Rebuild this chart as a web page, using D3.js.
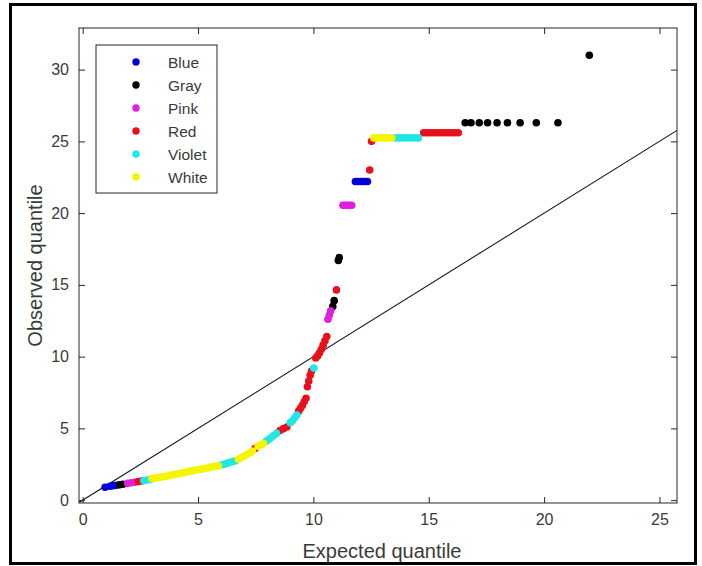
<!DOCTYPE html>
<html>
<head>
<meta charset="utf-8">
<script src="https://cdn.jsdelivr.net/npm/d3@7"></script>
<style>
  html, body { margin: 0; padding: 0; background: #fff; }
  svg text { font-family: "Liberation Sans", Arial, Helvetica, sans-serif; }
</style>
</head>
<body>
<svg id="chart" width="702" height="566"></svg>
<script>
// Q-Q plot: observed vs expected quantiles, points coloured by group.
// Each group is a list of [expected, observed] pairs.
const blue = [
  [0.97, 0.90], [1.18, 0.97], [1.33, 1.01], [1.47, 1.04],
  [11.82, 22.2], [11.92, 22.2], [12.03, 22.2], [12.13, 22.2], [12.24, 22.2], [12.34, 22.2]
];
const gray = [
  [1.60, 1.07], [1.74, 1.11],
  [10.84, 13.5], [10.90, 13.9], [11.08, 16.7], [11.12, 16.9],
  [16.58, 26.3], [16.83, 26.3], [17.19, 26.3], [17.55, 26.3], [17.96, 26.3],
  [18.41, 26.3], [18.96, 26.3], [19.66, 26.3], [20.60, 26.3],
  [21.96, 31.0]
];
const pink = [
  [1.95, 1.17], [2.10, 1.21], [2.25, 1.25],
  [10.63, 12.6], [10.69, 12.9], [10.75, 13.2],
  [11.28, 20.55], [11.37, 20.55], [11.47, 20.55], [11.57, 20.55], [11.66, 20.55]
];
const red = [
  [2.40, 1.29], [2.55, 1.33],
  [7.47, 3.60],
  [8.55, 4.85], [8.70, 4.98], [8.85, 5.10],
  [9.36, 6.20], [9.44, 6.40], [9.52, 6.60], [9.60, 6.85], [9.68, 7.10],
  [9.74, 7.90], [9.80, 8.30], [9.86, 8.70], [9.92, 9.00],
  [10.10, 9.90], [10.18, 10.05], [10.26, 10.25], [10.34, 10.50], [10.42, 10.80],
  [10.50, 11.10], [10.58, 11.40],
  [11.00, 14.65],
  [12.44, 23.0], [12.52, 25.0],
  [14.78, 25.6], [14.92, 25.6], [15.05, 25.6], [15.19, 25.6], [15.32, 25.6], [15.46, 25.6],
  [15.60, 25.6], [15.73, 25.6], [15.87, 25.6], [16.00, 25.6], [16.14, 25.6], [16.28, 25.6]
];
const violet = [
  [2.65, 1.36], [2.80, 1.40], [2.95, 1.44],
  [6.00, 2.45], [6.12, 2.50], [6.24, 2.56], [6.36, 2.62], [6.50, 2.68], [6.62, 2.74],
  [7.95, 4.10], [8.06, 4.22], [8.17, 4.36], [8.28, 4.50], [8.40, 4.65],
  [9.00, 5.40], [9.10, 5.55], [9.20, 5.75], [9.28, 5.93],
  [10.02, 9.20],
  [13.55, 25.24], [13.72, 25.24], [13.88, 25.24], [14.05, 25.24], [14.22, 25.24], [14.38, 25.24], [14.55, 25.24]
];
const white = [
  [3.00, 1.50], [3.12, 1.53], [3.24, 1.56], [3.36, 1.60], [3.48, 1.63], [3.60, 1.66],
  [3.72, 1.70], [3.84, 1.74], [3.96, 1.78], [4.08, 1.82], [4.20, 1.86], [4.32, 1.90],
  [4.44, 1.94], [4.56, 1.98], [4.68, 2.02], [4.80, 2.06], [4.92, 2.10], [5.04, 2.13],
  [5.16, 2.16], [5.28, 2.20], [5.40, 2.24], [5.52, 2.28], [5.64, 2.32], [5.76, 2.36],
  [5.88, 2.40],
  [6.75, 2.85], [6.88, 2.97], [7.00, 3.08], [7.12, 3.18], [7.25, 3.30], [7.36, 3.42],
  [7.60, 3.75], [7.72, 3.85], [7.83, 3.95],
  [12.62, 25.24], [12.78, 25.24], [12.93, 25.24], [13.09, 25.24], [13.24, 25.24], [13.40, 25.24]
];

const groupNames = ["Blue", "Gray", "Pink", "Red", "Violet", "White"];
const groupData = [blue, gray, pink, red, violet, white];
const groupColors = ["#0000d8", "#000000", "#e020e0", "#e8101c", "#22e6e6", "#f5f500"];

const xTicks = [0, 5, 10, 15, 20, 25];
const yTicks = [0, 5, 10, 15, 20, 25, 30];
const xDomain = [-0.16, 25.76];
const yDomain = [-0.2, 32.9];

const W = 702, H = 566;
const plot = { left: 79, right: 677, top: 28, bottom: 503 };
const axisColor = "#262626";

const svg = d3.select("#chart");
svg.append("rect").attr("width", W).attr("height", H).attr("fill", "#fff");

const x = d3.scaleLinear().domain(xDomain).range([plot.left, plot.right]);
const y = d3.scaleLinear().domain(yDomain).range([plot.bottom, plot.top]);

// clip for the plotting area
svg.append("clipPath").attr("id", "plotClip")
  .append("rect")
  .attr("x", plot.left).attr("y", plot.top)
  .attr("width", plot.right - plot.left).attr("height", plot.bottom - plot.top);

// reference line y = x across the full axis range
const refLine = d3.line().x(d => x(d[0])).y(d => y(d[1]));
svg.append("path")
  .attr("clip-path", "url(#plotClip)")
  .attr("d", refLine([[xDomain[0], xDomain[0]], [xDomain[1], xDomain[1]]]))
  .attr("fill", "none")
  .attr("stroke", "#1a1a1a")
  .attr("stroke-width", 1.1);

// scatter points, group by group
const pts = svg.append("g").attr("clip-path", "url(#plotClip)");
groupData.forEach((data, i) => {
  pts.append("g").selectAll("circle")
    .data(data)
    .join("circle")
    .attr("cx", d => x(d[0]))
    .attr("cy", d => y(d[1]))
    .attr("r", 3.8)
    .attr("fill", groupColors[i]);
});

// axes: ticks on all four sides, pointing inwards
const tickLen = 6;
const axB = d3.axisBottom(x).tickValues(xTicks).tickSize(-tickLen).tickPadding(11).tickFormat(d3.format("d"));
const axT = d3.axisTop(x).tickValues(xTicks).tickSize(-tickLen).tickFormat("");
const axL = d3.axisLeft(y).tickValues(yTicks).tickSize(-tickLen).tickPadding(10).tickFormat(d3.format("d"));
const axR = d3.axisRight(y).tickValues(yTicks).tickSize(-tickLen).tickFormat("");

function styleAxis(g) {
  g.select(".domain").remove();
  g.selectAll(".tick line").attr("stroke", axisColor);
  g.selectAll(".tick text").attr("fill", "#3a3a3a").attr("font-size", 16);
}
svg.append("g").attr("transform", `translate(0,${plot.bottom})`).call(axB).call(styleAxis);
svg.append("g").attr("transform", `translate(0,${plot.top})`).call(axT).call(styleAxis);
svg.append("g").attr("transform", `translate(${plot.left},0)`).call(axL).call(styleAxis);
svg.append("g").attr("transform", `translate(${plot.right},0)`).call(axR).call(styleAxis);

// axes box
svg.append("rect")
  .attr("x", plot.left).attr("y", plot.top)
  .attr("width", plot.right - plot.left).attr("height", plot.bottom - plot.top)
  .attr("fill", "none").attr("stroke", axisColor).attr("stroke-width", 1);

// axis labels
svg.append("text")
  .attr("x", (plot.left + plot.right) / 2 + 4).attr("y", 558)
  .attr("text-anchor", "middle").attr("font-size", 20).attr("fill", "#3a3a3a")
  .text("Expected quantile");
svg.append("text")
  .attr("transform", `translate(42,${(plot.top + plot.bottom) / 2}) rotate(-90)`)
  .attr("text-anchor", "middle").attr("font-size", 20).attr("fill", "#3a3a3a")
  .text("Observed quantile");

// legend
const lg = svg.append("g").attr("transform", "translate(96,45)");
lg.append("rect").attr("width", 121).attr("height", 148)
  .attr("fill", "#fff").attr("stroke", axisColor).attr("stroke-width", 1);
groupNames.forEach((name, i) => {
  const yy = 17 + i * 23;
  lg.append("circle").attr("cx", 40).attr("cy", yy).attr("r", 3.7).attr("fill", groupColors[i]);
  lg.append("text").attr("x", 72).attr("y", yy).attr("dy", "0.36em")
    .attr("font-size", 15.5).attr("fill", "#3a3a3a").text(name);
});

// outer frame
svg.append("rect")
  .attr("x", 10.5).attr("y", 4.5).attr("width", 685).attr("height", 559)
  .attr("fill", "none").attr("stroke", "#000").attr("stroke-width", 3);
</script>
</body>
</html>
